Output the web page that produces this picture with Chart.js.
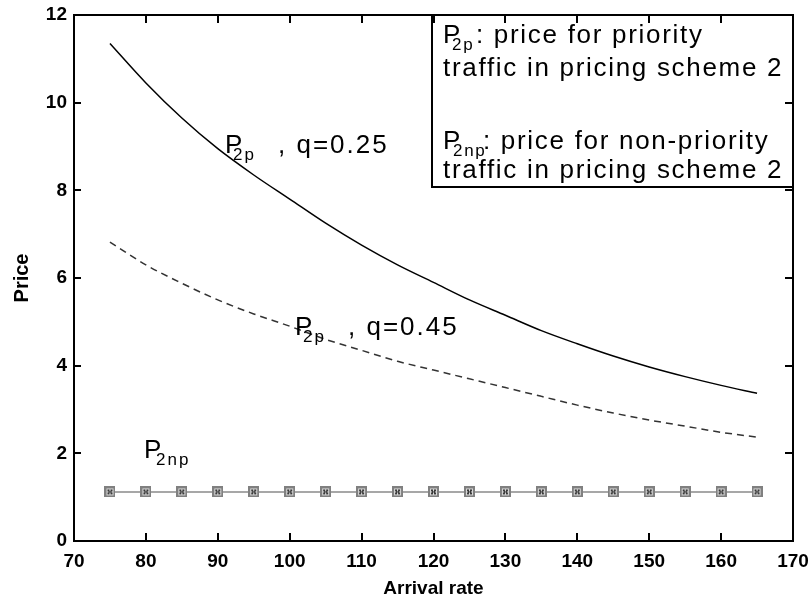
<!DOCTYPE html>
<html>
<head>
<meta charset="utf-8">
<script src="https://cdn.jsdelivr.net/npm/chart.js@4.4.0/dist/chart.umd.min.js"></script>
<style>
html,body{margin:0;padding:0;background:#fff}
#wrap{width:810px;height:604px}
</style>
</head>
<body>
<div id="wrap"><canvas id="c"></canvas></div>
<script>
// arrival rates where the prices were computed
var rates = [75,80,85,90,95,100,105,110,115,120,125,130,135,140,145,150,155,160,165]
// P2p for q=0.25 (solid)
var priceQ025 = [11.35,10.45,9.65,8.95,8.35,7.8,7.25,6.75,6.3,5.9,5.5,5.15,4.8,4.5,4.22,3.97,3.75,3.55,3.37]
// P2p for q=0.45 (dashed)
var priceQ045 = [6.82,6.3,5.88,5.5,5.18,4.9,4.6,4.35,4.1,3.9,3.7,3.5,3.3,3.1,2.92,2.76,2.62,2.48,2.37]
// P2np (flat, markers)
var priceNp = [1.12,1.12,1.12,1.12,1.12,1.12,1.12,1.12,1.12,1.12,1.12,1.12,1.12,1.12,1.12,1.12,1.12,1.12,1.12]
var xTicks = [70,80,90,100,110,120,130,140,150,160,170]
var yTicks = [0,2,4,6,8,10,12]

var tickFont = {family:'"Liberation Sans Narrow","Liberation Sans",Arial', size:19, weight:'bold'}
var txtFont = '26px "Liberation Sans", Arial'
var subFont = '17px "Liberation Sans", Arial'

function pts(arr){
    return rates.map(function(r,i){ return {x:r, y:arr[i]} })
}

// the square-with-x marker, drawn once on a small canvas
function makeMarker(){
    var m = document.createElement('canvas')
    m.width = 11; m.height = 11
    var g = m.getContext('2d')
    g.fillStyle = '#808080'
    g.fillRect(0,0,11,11)
    g.fillStyle = '#d8d8d8'
    g.fillRect(2,2,7,7)
    g.fillStyle = '#3a3a3a'
    g.fillRect(3,3,2,2); g.fillRect(6,3,2,2)
    g.fillRect(4,5,3,1)
    g.fillRect(3,6,2,2); g.fillRect(6,6,2,2)
    return m
}

// P with subscript, then the rest of the text
function subText(ctx, x, y, sub, subDx, rest, restDx){
    ctx.font = txtFont
    ctx.fillText('P', x, y)
    ctx.font = subFont
    ctx.fillText(sub, x+subDx, y+7)
    ctx.font = txtFont
    if(rest) ctx.fillText(rest, x+restDx, y)
}

var notes = {
    id:'notes',
    afterDatasetsDraw: function(chart){
        var ctx = chart.ctx
        var xs = chart.scales.x, ys = chart.scales.y
        var a = chart.chartArea
        ctx.save()
        ctx.fillStyle = '#000'
        ctx.textBaseline = 'alphabetic'
        ctx.textAlign = 'left'
        ctx.letterSpacing = '2px'
        subText(ctx, xs.getPixelForValue(91.0), ys.getPixelForValue(8.85), '2p', 8, ', q=0.25', 53)
        subText(ctx, xs.getPixelForValue(100.74), ys.getPixelForValue(4.70), '2p', 8, ', q=0.45', 53)
        subText(ctx, xs.getPixelForValue(79.74), ys.getPixelForValue(1.89), '2np', 12, null, 0)

        // legend box
        var bl = a.right - 361, bt = a.top
        ctx.fillStyle = '#fff'
        ctx.fillRect(bl, bt, 361, 172)
        ctx.strokeStyle = '#000'
        ctx.lineWidth = 2
        ctx.strokeRect(bl, bt, 361, 172)
        ctx.fillStyle = '#000'
        ctx.letterSpacing = '1.7px'
        subText(ctx, bl+11, bt+28, '2p', 9, ': price for priority', 33)
        ctx.font = txtFont
        ctx.fillText('traffic in pricing scheme 2', bl+11, bt+61)
        subText(ctx, bl+11, bt+134, '2np', 10, ': price for non-priority', 40)
        ctx.font = txtFont
        ctx.fillText('traffic in pricing scheme 2', bl+11, bt+163)
        ctx.restore()
    }
}

// axes box with inward ticks on all sides
var frame = {
    id:'frame',
    afterDraw: function(chart){
        var ctx = chart.ctx
        var a = chart.chartArea
        var xs = chart.scales.x, ys = chart.scales.y
        ctx.save()
        ctx.strokeStyle = '#000'
        ctx.lineWidth = 2
        ctx.strokeRect(a.left, a.top, a.right-a.left, a.bottom-a.top)
        ctx.beginPath()
        xTicks.forEach(function(v){
            var px = Math.round(xs.getPixelForValue(v))
            ctx.moveTo(px, a.bottom); ctx.lineTo(px, a.bottom-8)
            ctx.moveTo(px, a.top); ctx.lineTo(px, a.top+8)
        })
        yTicks.forEach(function(v){
            var py = Math.round(ys.getPixelForValue(v))
            ctx.moveTo(a.left, py); ctx.lineTo(a.left+7, py)
            ctx.moveTo(a.right, py); ctx.lineTo(a.right-8, py)
        })
        ctx.stroke()
        ctx.restore()
    }
}

var marker = makeMarker()

new Chart(document.getElementById('c'), {
    type:'line',
    data:{
        datasets:[
            {data:pts(priceQ025), borderColor:'#000', borderWidth:1.5, pointRadius:0, cubicInterpolationMode:'monotone'},
            {data:pts(priceQ045), borderColor:'#333', borderWidth:1.5, borderDash:[7,5], pointRadius:0, cubicInterpolationMode:'monotone'},
            {data:pts(priceNp), borderColor:'#8a8a8a', borderWidth:1.5, pointStyle:marker, pointRadius:6}
        ]
    },
    options:{
        responsive:true,
        maintainAspectRatio:false,
        animation:false,
        devicePixelRatio:1,
        layout:{padding:{left:0, right:17, top:15, bottom:0}},
        plugins:{legend:{display:false}, tooltip:{enabled:false}},
        scales:{
            x:{
                type:'linear', min:70, max:170,
                afterFit:function(s){ s.height = 63; s.paddingLeft = 0; s.paddingRight = 0 },
                afterBuildTicks:function(s){ s.ticks = xTicks.map(function(v){ return {value:v} }) },
                grid:{display:false, drawTicks:false},
                border:{display:false},
                ticks:{color:'#000', font:tickFont, padding:9, maxRotation:0, autoSkip:false},
                title:{display:true, text:'Arrival rate', color:'#000',
                       font:{family:'"Liberation Sans Narrow","Liberation Sans",Arial', size:19, weight:'bold'}, padding:{top:4, bottom:4}}
            },
            y:{
                min:0, max:12,
                afterFit:function(s){ s.width = 74; s.paddingTop = 0; s.paddingBottom = 0 },
                afterBuildTicks:function(s){ s.ticks = yTicks.map(function(v){ return {value:v} }) },
                grid:{display:false, drawTicks:false},
                border:{display:false},
                ticks:{color:'#000', font:tickFont, padding:7, autoSkip:false},
                title:{display:true, text:'Price', color:'#000',
                       font:{family:'"Liberation Sans Narrow","Liberation Sans",Arial', size:20, weight:'bold'}, padding:{top:10, bottom:6}}
            }
        }
    },
    plugins:[notes, frame]
})
</script>
</body>
</html>
